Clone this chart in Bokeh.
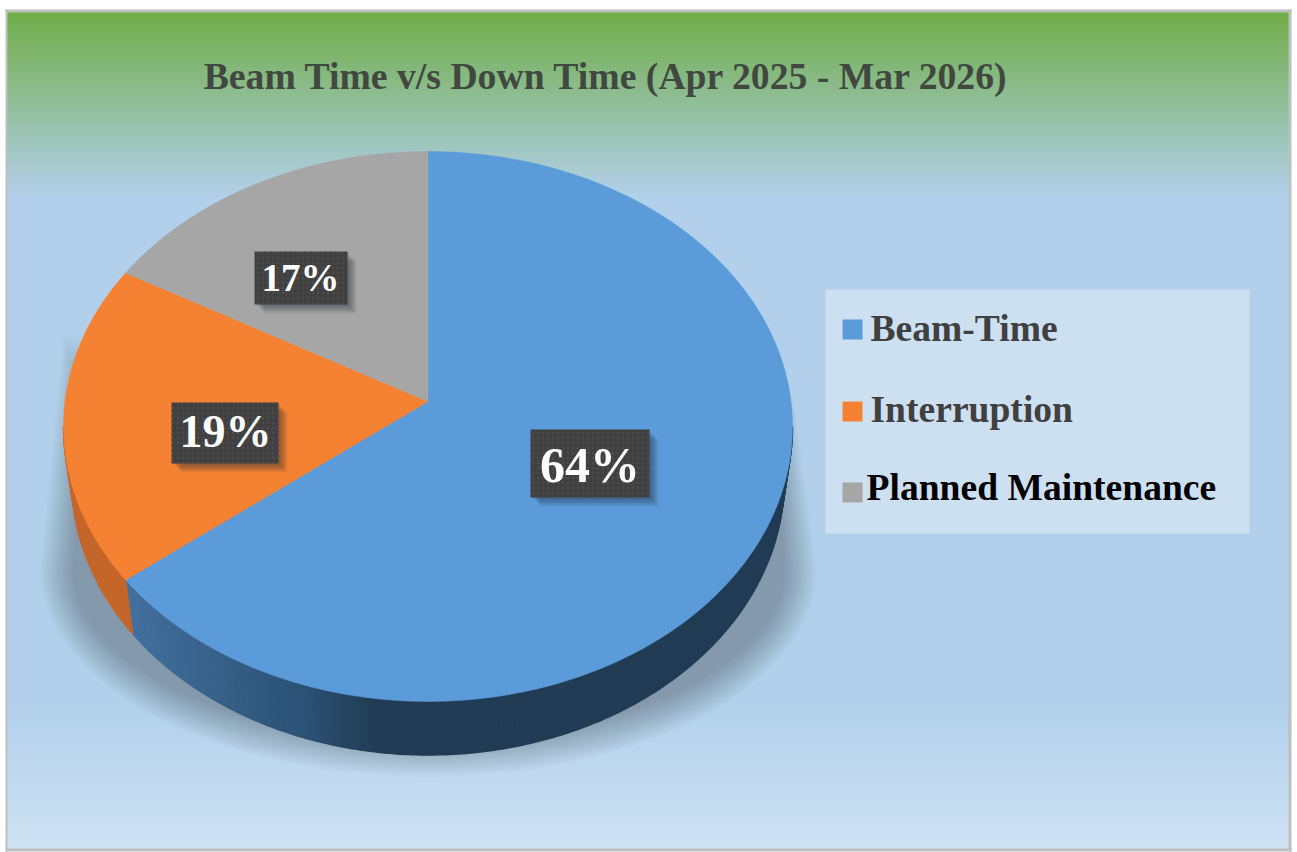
import numpy as np
from bokeh.plotting import figure
from bokeh.embed import file_html
from bokeh.resources import INLINE
from bokeh.core.properties import value

title = "Beam Time v/s Down Time (Apr 2025 - Mar 2026)"
categories = ["Beam-Time", "Interruption", "Planned Maintenance"]
shares = [64.4, 18.8, 16.8]
colors = ["#5C9BD9", "#F58233", "#A6A6A6"]
legend_text_colors = ["#404040", "#404040", "#000000"]

SERIF = value("Liberation Serif")

p = figure(width=1297, height=852, x_range=(0, 1297), y_range=(852, 0),
           output_backend="svg", toolbar_location=None, x_axis_type=None, y_axis_type=None,
           min_border=0, background_fill_color="white", border_fill_color="white",
           outline_line_color=None)
p.grid.visible = False


def hexc(r, g, b):
    return "#%02x%02x%02x" % (int(round(r)), int(round(g)), int(round(b)))


# background gradient -------------------------------------------------------
stop_y = [10, 195, 700, 849]
stop_r = [112, 178, 178, 206]
stop_g = [173, 208, 208, 226]
stop_b = [72, 235, 235, 243]
ye = np.arange(10, 849, 3.0)
bg = [hexc(np.interp(y, stop_y, stop_r), np.interp(y, stop_y, stop_g), np.interp(y, stop_y, stop_b)) for y in ye]
p.quad(left=6, right=1290, top=ye, bottom=np.minimum(ye + 4, 850), fill_color=bg, line_color=None)

# frame
p.quad(left=[5, 5, 5, 1288], right=[7, 1291, 1291, 1291], top=[9, 9, 848, 9], bottom=[851, 12, 851, 851],
       fill_color="#bfbfbf", line_color=None)


# pie geometry: a tilted disc drawn in perspective ---------------------------
CX, CY, A, B, K, DEPTH, SHRINK = 427.5, 401.0, 363.0, 272.7, 0.0909, 53.5, 0.977
EDGE = np.degrees(np.arccos(-K))  # where the rim turns out of sight


def project(theta_deg):
    t = np.radians(theta_deg)
    u, v = np.sin(t), np.cos(t)
    d = 1 + K * v
    return CX + A * u / d, CY - B * v / d


cum = np.cumsum([0] + shares) / sum(shares) * 360.0

# soft ground shadow
n_layers = 18
for i in range(n_layers):
    f = i / (n_layers - 1)
    rx = 388 - 32 * f
    bottom = 776 - 36 * f
    ang = np.radians(np.linspace(0, 180, 90))
    sx = 428 + rx * np.cos(ang)
    sy = 570 + (bottom - 570) * np.sin(ang)
    xs = np.r_[793 - 14 * f, sx, 63 + 20 * f]
    ys = np.r_[400 + 50 * f, sy, 335 + 70 * f]
    p.patch(xs, ys, fill_color="#3c3c3c", fill_alpha=0.019, line_color=None)

# side wall, as many slim strips
side_stop_x = [125, 300, 375, 800]
side_blue = ([66, 44, 33, 33], [112, 82, 60, 60], [158, 116, 84, 84])
for k, (start, end) in enumerate(zip(cum[:2], cum[1:3])):
    lo, hi = max(start, EDGE), min(end, 360 - EDGE)
    th = np.arange(lo, hi + 0.01, 0.6)
    if th[-1] < hi:
        th = np.r_[th, hi]
    x, y = project(th)
    xb = CX + (x - CX) * SHRINK
    yb = y + DEPTH
    xs, ys, cs = [], [], []
    for j in range(len(th) - 1):
        xs.append([x[j], x[j + 1], xb[j + 1], xb[j]])
        ys.append([y[j], y[j + 1], yb[j + 1], yb[j]])
        xm = (x[j] + x[j + 1]) / 2
        if k == 0:
            cs.append(hexc(*[np.interp(xm, side_stop_x, c) for c in side_blue]))
        else:
            cs.append("#C4662A")
    p.patches(xs, ys, fill_color=cs, line_color=cs, line_width=1.5)

# top surface
for start, end, c in zip(cum[:-1], cum[1:], colors):
    th = np.linspace(start, end, 240)
    x, y = project(th)
    p.patch(np.r_[CX, x], np.r_[CY, y], fill_color=c, line_color=c, line_width=0.5)

# value labels
label_box = [(530, 649, 429, 497), (171, 278, 402, 463), (254, 347, 251, 304)]
label_xy = [(589.5, 482), (225, 447), (300, 291)]
label_size = [50, 46, 39]
for share, (l, r, t, b), (tx, ty), fs in zip(shares, label_box, label_xy, label_size):
    for s in range(9):
        off = s * 1.1
        p.quad(left=l + off + 1, right=r + off, top=t + off + 1, bottom=b + off,
               fill_color="#1a2a3a", fill_alpha=0.07, line_color=None)
    p.quad(left=l, right=r, top=t, bottom=b, fill_color="#404040", line_color=None,
           hatch_pattern="dot", hatch_color="#5e5e5e", hatch_scale=5, hatch_alpha=0.4)
    p.text([tx], [ty - 0.35 * fs], text=[f"{round(share)}%"], text_font=SERIF, text_font_style="bold",
           text_font_size=f"{fs}px", text_color="white", text_align="center", text_baseline="alphabetic")

# title
p.text([606], [89 - 0.35 * 37.7], text=[title], text_font=SERIF, text_font_style="bold", text_font_size="37.7px",
       text_color="#404840", text_align="center", text_baseline="alphabetic")

# legend
p.quad(left=825, right=1249, top=289, bottom=533, fill_color="white", fill_alpha=0.35, line_color=None)
leg_y = [341, 422, 500]
leg_sw = [319, 401, 482]
leg_x = [870, 870, 866]
for name, c, tc, y, sw, x in zip(categories, colors, legend_text_colors, leg_y, leg_sw, leg_x):
    p.quad(left=842, right=862, top=sw, bottom=sw + 20, fill_color=c, line_color=None)
    p.text([x], [y - 0.35 * 37.6], text=[name], text_font=SERIF, text_font_style="bold", text_font_size="37.6px",
           text_color=tc, text_align="left", text_baseline="alphabetic")

open("out.html", "w").write(file_html(p, INLINE))
